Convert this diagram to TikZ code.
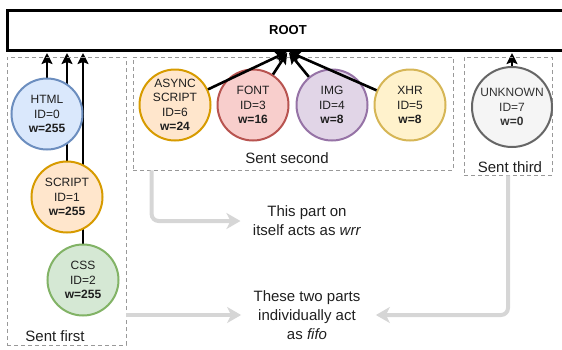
\documentclass[tikz,border=0pt]{standalone}
\usepackage{fontspec}
\setmainfont{Liberation Sans}
\usetikzlibrary{arrows.meta,backgrounds,positioning}
\definecolor{htmlfill}{HTML}{DAE8FC}
\definecolor{htmldraw}{HTML}{6C8EBF}
\definecolor{scriptfill}{HTML}{FFE6CC}
\definecolor{scriptdraw}{HTML}{D79B00}
\definecolor{cssfill}{HTML}{D5E8D4}
\definecolor{cssdraw}{HTML}{82B366}
\definecolor{fontfill}{HTML}{F8CECC}
\definecolor{fontdraw}{HTML}{B85450}
\definecolor{imgfill}{HTML}{E1D5E7}
\definecolor{imgdraw}{HTML}{9673A6}
\definecolor{xhrfill}{HTML}{FFF2CC}
\definecolor{xhrdraw}{HTML}{D6B656}
\definecolor{unkfill}{HTML}{F5F5F5}
\definecolor{unkdraw}{HTML}{666666}
\definecolor{unktext}{HTML}{333333}
\definecolor{flowgray}{HTML}{D6D6D6}

\begin{document}
\begin{tikzpicture}[x=1pt, y=-1pt,
	res/.style={circle, draw, line width=2pt, minimum size=71pt, inner sep=0pt, align=center, text=black!88, font=\fontsize{12}{14.5}\selectfont},
	grp/.style={draw=black!40, dash pattern=on 4pt off 3pt, line width=0.8pt, inner sep=0pt},
	grplabel/.style={text=black!88, font=\fontsize{15}{18}\selectfont},
	note/.style={align=center, text=black!88, font=\fontsize{15}{19}\selectfont},
	dep/.style={line width=2.6pt, shorten >=1.5pt, -{Stealth[length=11pt,width=11pt,inset=2pt]}},
	flow/.style={draw=flowgray, line width=4pt, rounded corners=7pt, -{Stealth[length=14pt,width=16pt,inset=4pt]}}]
\useasboundingbox (0,0) rectangle (562,349);
%root
\node[draw, line width=3pt, minimum width=562pt, minimum height=40pt, font=\bfseries\fontsize{13}{15}\selectfont] (root) at (288,30) {ROOT};
%groups
\node[grp, minimum width=119pt, minimum height=288pt] (first) at (66.5,201) {};
\node[grp, minimum width=320pt, minimum height=113pt] (second) at (293,113.5) {};
\node[grp, minimum width=88pt, minimum height=118pt] (third) at (508,116) {};
\node[grplabel] (firstlbl) at (55,336) {Sent first};
\node[grplabel] (secondlbl) at (287,158) {Sent second};
\node[grplabel] (thirdlbl) at (510,167) {Sent third};
%sent first
\node[res, fill=htmlfill, draw=htmldraw] (html) at (47,114) {HTML\\ID=0\\\textbf{w=255}};
\node[res, fill=scriptfill, draw=scriptdraw] (script) at (67,197) {SCRIPT\\ID=1\\\textbf{w=255}};
\node[res, fill=cssfill, draw=cssdraw] (css) at (83,280) {CSS\\ID=2\\\textbf{w=255}};
%sent second
\node[res, fill=scriptfill, draw=scriptdraw] (async) at (175,105) {ASYNC\\SCRIPT\\ID=6\\\textbf{w=24}};
\node[res, fill=fontfill, draw=fontdraw] (fnt) at (253,105) {FONT\\ID=3\\\textbf{w=16}};
\node[res, fill=imgfill, draw=imgdraw] (img) at (332,105) {IMG\\ID=4\\\textbf{w=8}};
\node[res, fill=xhrfill, draw=xhrdraw] (xhr) at (410,105) {XHR\\ID=5\\\textbf{w=8}};
%sent third
\node[res, minimum size=80pt, fill=unkfill, draw=unkdraw, text=unktext] (unknown) at (512,107) {UNKNOWN\\ID=7\\\textbf{w=0}};
%dependencies
\begin{scope}[on background layer]
\foreach \n in {html,script,css,unknown}
	\draw[dep] (\n.north) -- (\n.north |- root.south);
\end{scope}
\foreach \n in {async,fnt,img,xhr}
	\draw[dep] (\n) -- (root.south);
%notes
\node[note] (wrr) at (307,221) {This part on\\itself acts as \textit{wrr}};
\node[note] (fifo) at (307,315) {These two parts\\individually act\\as \textit{fifo}};
\draw[flow] ([xshift=19pt]second.south west) |- ([xshift=-9pt]wrr.west);
\draw[flow] (first.east |- fifo.west) -- ([xshift=-9pt]fifo.west);
\draw[flow] (third.south) |- ([xshift=12pt]fifo.east);
\end{tikzpicture}
\end{document}
